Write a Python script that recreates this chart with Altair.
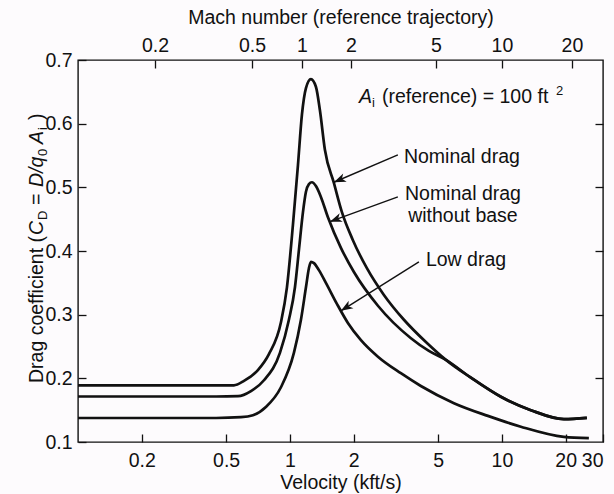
import altair as alt
import pandas as pd

# ---------------- data ----------------
velocity_nominal = [0.1, 0.448, 0.544, 0.607, 0.706, 0.796, 0.907, 0.968, 1.033, 1.091, 1.139, 1.190,
                    1.256, 1.326, 1.385, 1.462, 1.612, 1.759, 1.982, 2.307, 2.776, 3.450, 4.380,
                    5.443, 7.143, 9.89, 13.70, 19.61, 25.18]
cd_nominal = [0.189, 0.189, 0.189, 0.196, 0.213, 0.238, 0.288, 0.343, 0.441, 0.535, 0.614, 0.656,
              0.670, 0.658, 0.621, 0.559, 0.507, 0.461, 0.417, 0.373, 0.331, 0.292, 0.257,
              0.229, 0.201, 0.171, 0.150, 0.136, 0.138]

velocity_nobase = [0.1, 0.448, 0.569, 0.655, 0.754, 0.897, 0.989, 1.056, 1.103, 1.152, 1.190, 1.229,
                   1.270, 1.326, 1.400, 1.511, 1.740, 2.004, 2.601, 3.723, 4.524,
                   5.443, 7.143, 9.89, 13.70, 19.61, 25.18]
cd_nobase = [0.1715, 0.1715, 0.172, 0.180, 0.197, 0.240, 0.292, 0.343, 0.402, 0.461, 0.493, 0.505,
             0.508, 0.502, 0.485, 0.453, 0.405, 0.367, 0.314, 0.263, 0.243,
             0.229, 0.201, 0.171, 0.150, 0.136, 0.138]

velocity_low = [0.1, 0.448, 0.587, 0.669, 0.770, 0.907, 1.044, 1.127, 1.190, 1.229, 1.256, 1.298,
                1.370, 1.478, 1.666, 1.877, 2.163, 2.601, 3.337, 4.146, 5.94, 8.59, 12.29, 19.61, 25.73]
cd_low = [0.1377, 0.1377, 0.139, 0.142, 0.155, 0.186, 0.240, 0.292, 0.343, 0.373, 0.383, 0.381,
          0.370, 0.350, 0.317, 0.287, 0.260, 0.234, 0.208, 0.188, 0.161, 0.141, 0.124, 0.108, 0.106]

series_names = ["Nominal drag", "Nominal drag without base", "Low drag"]

velocity_ticks = [0.2, 0.5, 1, 2, 5, 10, 20, 30]
cd_ticks = [0.1, 0.2, 0.3, 0.4, 0.5, 0.6, 0.7]
cd_ticks_right = [0.2, 0.3, 0.4, 0.5, 0.6]
mach_tick_labels = ["0.2", "0.5", "1", "2", "5", "10", "20"]
mach_tick_velocity = [0.231, 0.662, 1.139, 1.94, 4.88, 10.0, 21.4]

# arrows: label end -> curve point
arrow_v_start = [3.23, 3.23, 4.06]
arrow_cd_start = [0.551, 0.485, 0.383]
arrow_v_tip = [1.612, 1.544, 1.740]
arrow_cd_tip = [0.508, 0.446, 0.306]
arrow_angle = [157.1, 159.8, 147.9]

# ---------------- tables ----------------
rows = []
for name, vs, cs in zip(series_names,
                        [velocity_nominal, velocity_nobase, velocity_low],
                        [cd_nominal, cd_nobase, cd_low]):
    for v, c in zip(vs, cs):
        rows.append({"series": name, "velocity": v, "cd": c})
df = pd.DataFrame(rows)

arrows = pd.DataFrame({"v": arrow_v_start, "c": arrow_cd_start,
                       "v2": arrow_v_tip, "c2": arrow_cd_tip, "angle": arrow_angle})

FONT = "Liberation Sans"
INK = "#111111"
FS = 19.5
SUB = 13
W, H = 525, 382

x_scale = alt.Scale(type="log", domain=[0.1, 30], nice=False)
y_scale = alt.Scale(domain=[0.1, 0.7], nice=False, zero=False)

mach_label_expr = ("[" + ",".join(f"'{l}'" for l in mach_tick_labels) + "][indexof(["
                   + ",".join(str(v) for v in mach_tick_velocity) + "], datum.value)]")

lines = alt.Chart(df).mark_line(interpolate="monotone", color=INK, strokeWidth=2.7).encode(
    x=alt.X("velocity:Q", scale=x_scale,
            axis=alt.Axis(orient="bottom", values=velocity_ticks, format="~g",
                          title="Velocity (kft/s)", offset=-8, tickSize=8, domain=False,
                          grid=False, labelPadding=9, titlePadding=4)),
    y=alt.Y("cd:Q", scale=y_scale,
            axis=alt.Axis(orient="left", values=cd_ticks, format=".1f", title=None,
                          offset=-8, tickSize=8, domain=False, grid=False, labelPadding=6)),
    detail="series:N",
)

top_right = alt.Chart(df).mark_line(opacity=0).encode(
    x=alt.X("velocity:Q", scale=x_scale,
            axis=alt.Axis(orient="top", values=mach_tick_velocity, labelExpr=mach_label_expr,
                          title="Mach number (reference trajectory)", offset=-8, tickSize=8,
                          domain=False, grid=False, labelPadding=5, titlePadding=8)),
    y=alt.Y("cd:Q", scale=y_scale,
            axis=alt.Axis(orient="right", values=cd_ticks_right, labels=False, title=None,
                          offset=-8, tickSize=8, domain=False, grid=False)),
    detail="series:N",
)

anchor = pd.DataFrame({"a": [0]})


def data_text(text, v, c, size=FS, style="normal", align="left", baseline="alphabetic",
              dx=0, dy=0, line_height=None):
    kw = dict(text=text, font=FONT, fontSize=size, fontStyle=style, align=align,
              baseline=baseline, dx=dx, dy=dy, color=INK)
    if line_height:
        kw["lineHeight"] = line_height
    d = pd.DataFrame({"v": [v], "c": [c]})
    return alt.Chart(d).mark_text(**kw).encode(
        x=alt.X("v:Q", scale=x_scale, axis=None),
        y=alt.Y("c:Q", scale=y_scale, axis=None),
    )


def rot_piece(text, px, py, size=FS, style="normal"):
    return alt.Chart(anchor).mark_text(
        text=text, font=FONT, fontSize=size, fontStyle=style, angle=270,
        align="left", baseline="alphabetic", color=INK,
    ).encode(x=alt.value(px), y=alt.value(py))


# annotation anchors
A_v, A_c = 2.116, 0.632
annotations = [
    data_text("A", A_v, A_c, style="italic"),
    data_text("i", A_v, A_c, size=SUB, dx=13, dy=4),
    data_text("(reference) = 100 ft", A_v, A_c, dx=23),
    data_text("2", A_v, A_c, size=SUB, dx=197, dy=-8),
    data_text("Nominal drag", 3.45, 0.538),
    data_text(["Nominal drag", "without base"], 6.55, 0.480, align="center", line_height=22),
    data_text("Low drag", 4.38, 0.376),
]

shafts = alt.Chart(arrows).mark_rule(color=INK, strokeWidth=1.4).encode(
    x=alt.X("v:Q", scale=x_scale, axis=None),
    y=alt.Y("c:Q", scale=y_scale, axis=None),
    x2="v2:Q", y2="c2:Q",
)
heads = alt.Chart(arrows).mark_point(
    shape="M0,0 L-2,-0.75 L-1.45,0 L-2,0.75 Z", filled=True, color=INK, opacity=1, size=144,
).encode(
    x=alt.X("v2:Q", scale=x_scale, axis=None),
    y=alt.Y("c2:Q", scale=y_scale, axis=None),
    angle=alt.Angle("angle:Q", scale=None),
)

# rotated y-axis title pieces: Drag coefficient (C_D = D/q_0 A_i )
BX, SX = -35, -31
ytitle = [
    rot_piece("Drag coefficient (", BX, 323),
    rot_piece("C", BX, 175, style="italic"),
    rot_piece("D", SX, 160, size=SUB),
    rot_piece("=", BX, 145),
    rot_piece("D/q", BX, 127, style="italic"),
    rot_piece("0", SX, 96, size=SUB),
    rot_piece("A", BX, 84, style="italic"),
    rot_piece("i", SX, 70, size=SUB),
    rot_piece(")", BX, 60),
]

chart = alt.layer(
    lines, top_right, shafts, heads, *annotations, *ytitle
).resolve_scale(x="shared", y="shared").resolve_axis(x="independent", y="independent").properties(
    width=W, height=H,
    autosize=alt.AutoSizeParams(type="none"),
    padding={"left": 78, "top": 60, "right": 11, "bottom": 52},
    background="#fdfbfd",
).configure_view(
    stroke=INK, strokeWidth=1.4,
).configure_axis(
    labelFont=FONT, labelFontSize=FS, labelColor=INK,
    titleFont=FONT, titleFontSize=FS, titleColor=INK, titleFontWeight="normal",
    tickColor=INK, tickWidth=1.3,
)

chart.save("out.html", embed_options={"renderer": "svg", "actions": False})
